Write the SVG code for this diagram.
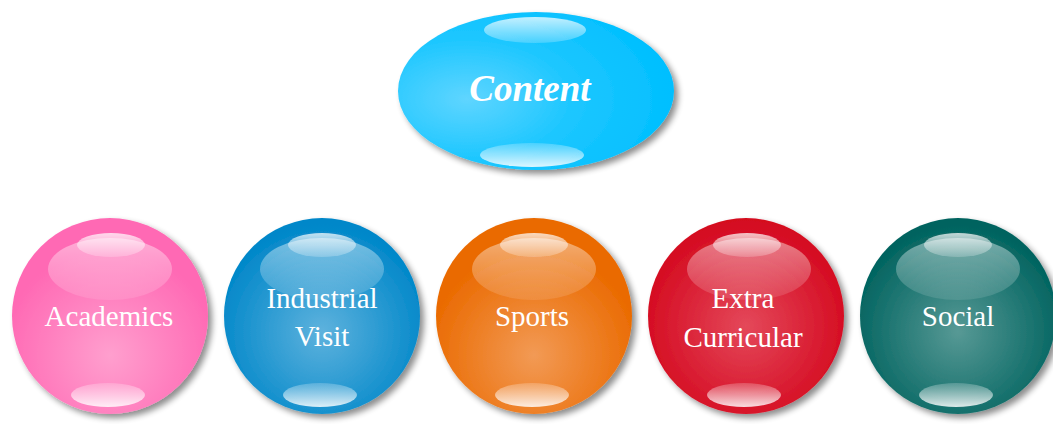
<svg xmlns="http://www.w3.org/2000/svg" width="1053" height="424" viewBox="0 0 1053 424">
<defs>
<filter id="shadow" x="-20%" y="-20%" width="150%" height="150%">
<feGaussianBlur in="SourceAlpha" stdDeviation="3"/>
<feOffset dx="4" dy="4" result="b"/>
<feComponentTransfer><feFuncA type="linear" slope="0.45"/></feComponentTransfer>
<feMerge><feMergeNode/><feMergeNode in="SourceGraphic"/></feMerge>
</filter>
<radialGradient id="gCyan" cx="25%" cy="55%" r="75%">
<stop offset="0" stop-color="#5fd5ff"/>
<stop offset="0.5" stop-color="#1ec7ff"/>
<stop offset="1" stop-color="#00bfff"/>
</radialGradient>
<radialGradient id="gPink" cx="50%" cy="70%" r="55%">
<stop offset="0" stop-color="#ff9fce"/>
<stop offset="1" stop-color="#ff69b4"/>
</radialGradient>
<radialGradient id="gBlue" cx="50%" cy="58%" r="55%">
<stop offset="0" stop-color="#5eb2dd"/>
<stop offset="1" stop-color="#0087c9"/>
</radialGradient>
<radialGradient id="gOrange" cx="50%" cy="70%" r="55%">
<stop offset="0" stop-color="#f29a55"/>
<stop offset="1" stop-color="#ea6a00"/>
</radialGradient>
<radialGradient id="gRed" cx="50%" cy="55%" r="55%">
<stop offset="0" stop-color="#e4485a"/>
<stop offset="1" stop-color="#d4081e"/>
</radialGradient>
<radialGradient id="gTeal" cx="50%" cy="58%" r="55%">
<stop offset="0" stop-color="#579995"/>
<stop offset="1" stop-color="#00635f"/>
</radialGradient>
<linearGradient id="hBig" x1="0" y1="0" x2="0" y2="1">
<stop offset="0" stop-color="#fff" stop-opacity="0.45"/>
<stop offset="1" stop-color="#fff" stop-opacity="0.1"/>
</linearGradient>
<linearGradient id="hTop" x1="0" y1="0" x2="0" y2="1">
<stop offset="0" stop-color="#fff" stop-opacity="0.75"/>
<stop offset="1" stop-color="#fff" stop-opacity="0.2"/>
</linearGradient>
<linearGradient id="hBot" x1="0" y1="0" x2="0" y2="1">
<stop offset="0" stop-color="#fff" stop-opacity="0.2"/>
<stop offset="1" stop-color="#fff" stop-opacity="0.85"/>
</linearGradient>
</defs>
<style>
.lbl{font-family:"Liberation Serif","Times New Roman",serif;font-size:29px;fill:#fff;text-anchor:middle}
.title{font-family:"Liberation Serif","Times New Roman",serif;font-size:37px;font-weight:bold;font-style:italic;fill:#fff;text-anchor:middle}
</style>
<rect width="1053" height="424" fill="#fff"/>
<g id="connectors"/>
<g id="node-content">
<ellipse cx="536" cy="91" rx="138" ry="79" fill="url(#gCyan)" filter="url(#shadow)"/>
<ellipse cx="535" cy="30" rx="51" ry="13" fill="url(#hTop)"/>
<ellipse cx="532" cy="155" rx="52" ry="12" fill="url(#hBot)"/>
<text class="title" x="530" y="101">Content</text>
</g>
<g id="node-academics">
<circle cx="110" cy="316" r="98" fill="url(#gPink)" filter="url(#shadow)"/>
<ellipse cx="110" cy="269" rx="62" ry="31" fill="url(#hBig)"/>
<ellipse cx="111" cy="245" rx="34" ry="12" fill="url(#hTop)"/>
<ellipse cx="108" cy="395" rx="37" ry="12" fill="url(#hBot)"/>
<text class="lbl" x="109" y="326">Academics</text>
</g>
<g id="node-industrial">
<circle cx="322" cy="316" r="98" fill="url(#gBlue)" filter="url(#shadow)"/>
<ellipse cx="322" cy="269" rx="62" ry="31" fill="url(#hBig)"/>
<ellipse cx="322" cy="245" rx="34" ry="12" fill="url(#hTop)"/>
<ellipse cx="320" cy="395" rx="37" ry="12" fill="url(#hBot)"/>
<text class="lbl" x="322" y="308">Industrial</text>
<text class="lbl" x="322" y="346">Visit</text>
</g>
<g id="node-sports">
<circle cx="534" cy="316" r="98" fill="url(#gOrange)" filter="url(#shadow)"/>
<ellipse cx="534" cy="269" rx="62" ry="31" fill="url(#hBig)"/>
<ellipse cx="534" cy="245" rx="34" ry="12" fill="url(#hTop)"/>
<ellipse cx="532" cy="395" rx="37" ry="12" fill="url(#hBot)"/>
<text class="lbl" x="532" y="326">Sports</text>
</g>
<g id="node-extra">
<circle cx="746" cy="316" r="98" fill="url(#gRed)" filter="url(#shadow)"/>
<ellipse cx="749" cy="269" rx="62" ry="31" fill="url(#hBig)"/>
<ellipse cx="747" cy="245" rx="34" ry="12" fill="url(#hTop)"/>
<ellipse cx="744" cy="395" rx="37" ry="12" fill="url(#hBot)"/>
<text class="lbl" x="743" y="308">Extra</text>
<text class="lbl" x="743" y="347">Curricular</text>
</g>
<g id="node-social">
<circle cx="958" cy="316" r="98" fill="url(#gTeal)" filter="url(#shadow)"/>
<ellipse cx="958" cy="269" rx="62" ry="31" fill="url(#hBig)"/>
<ellipse cx="958" cy="245" rx="34" ry="12" fill="url(#hTop)"/>
<ellipse cx="956" cy="395" rx="37" ry="12" fill="url(#hBot)"/>
<text class="lbl" x="958" y="326">Social</text>
</g>
</svg>
